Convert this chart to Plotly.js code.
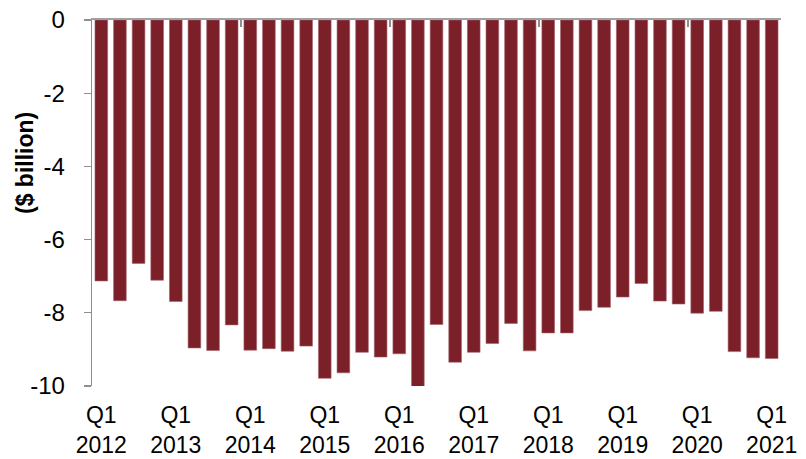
<!DOCTYPE html>
<html>
<head>
<meta charset="utf-8">
<script src="https://cdn.plot.ly/plotly-3.0.1.min.js"></script>
<style>html,body{margin:0;padding:0;background:#fff;}#chart{width:806px;height:459px;}</style>
</head>
<body>
<div id="chart"></div>
<script>
// Quarters Q1 2012 .. Q1 2021
const quarters = [
  "2012Q1","2012Q2","2012Q3","2012Q4",
  "2013Q1","2013Q2","2013Q3","2013Q4",
  "2014Q1","2014Q2","2014Q3","2014Q4",
  "2015Q1","2015Q2","2015Q3","2015Q4",
  "2016Q1","2016Q2","2016Q3","2016Q4",
  "2017Q1","2017Q2","2017Q3","2017Q4",
  "2018Q1","2018Q2","2018Q3","2018Q4",
  "2019Q1","2019Q2","2019Q3","2019Q4",
  "2020Q1","2020Q2","2020Q3","2020Q4",
  "2021Q1"
];
const values = [
  -7.13, -7.67, -6.65, -7.11,
  -7.69, -8.96, -9.03, -8.33,
  -9.02, -8.98, -9.05, -8.91,
  -9.79, -9.64, -9.08, -9.21,
  -9.12, -10.03, -8.32, -9.35,
  -9.08, -8.84, -8.29, -9.04,
  -8.55, -8.55, -7.94, -7.85,
  -7.57, -7.20, -7.68, -7.76,
  -8.01, -7.96, -9.06, -9.23,
  -9.25
];
const tickLabels = ["Q1<br>2012","Q1<br>2013","Q1<br>2014","Q1<br>2015","Q1<br>2016","Q1<br>2017","Q1<br>2018","Q1<br>2019","Q1<br>2020","Q1<br>2021"];
const tickQuarters = ["2012Q1","2013Q1","2014Q1","2015Q1","2016Q1","2017Q1","2018Q1","2019Q1","2020Q1","2021Q1"];
const yTicks = [0, -2, -4, -6, -8, -10];

const xIdx = quarters.map((q, i) => i);
const tickPos = tickQuarters.map(q => quarters.indexOf(q));
// separator ticks every 8 quarters (between categories)
const sepTicks = [8, 16, 24, 32].map(k => k - 0.5);

const FONT = '"Liberation Sans", Arial, sans-serif';
const AXIS_GRAY = '#8e8e8e';

const traces = [
  {
    type: 'bar',
    x: xIdx,
    y: values,
    marker: {color: '#7b2029', line: {color: '#a4626a', width: 0.6}},
    hoverinfo: 'skip'
  },
  {
    type: 'scatter',
    x: [xIdx[0]],
    y: [0],
    xaxis: 'x2',
    mode: 'none',
    hoverinfo: 'skip',
    showlegend: false
  }
];

const xr = [-0.5, quarters.length - 0.5];

const layout = {
  width: 806,
  height: 459,
  margin: {l: 92, r: 25, t: 20, b: 73},
  paper_bgcolor: '#ffffff',
  plot_bgcolor: '#ffffff',
  showlegend: false,
  bargap: 0.32,
  font: {family: FONT, color: '#000000'},
  xaxis: {
    range: xr,
    tickvals: tickPos,
    ticktext: tickLabels,
    ticks: '',
    showline: false,
    showgrid: false,
    zeroline: false,
    tickfont: {size: 23, family: FONT, color: '#000'},
    ticklabelstandoff: 13,
    fixedrange: true
  },
  xaxis2: {
    overlaying: 'x',
    side: 'top',
    range: xr,
    tickvals: sepTicks,
    ticks: 'inside',
    ticklen: 7,
    tickwidth: 2,
    tickcolor: AXIS_GRAY,
    showticklabels: false,
    showline: true,
    linecolor: '#a0a0a0',
    linewidth: 2,
    showgrid: false,
    zeroline: false
  },
  yaxis: {
    range: [-10, 0],
    tickvals: yTicks,
    ticktext: yTicks.map(v => String(v)),
    ticks: 'outside',
    ticklen: 7,
    tickwidth: 1.3,
    tickcolor: AXIS_GRAY,
    showline: true,
    linecolor: AXIS_GRAY,
    linewidth: 1.3,
    showgrid: false,
    zeroline: false,
    tickfont: {size: 24, family: FONT, color: '#000'},
    ticklabelstandoff: 14,
    fixedrange: true
  },
  annotations: [
    {
      text: '<b>($ billion)</b>',
      textangle: -90,
      xref: 'paper', yref: 'paper',
      x: (25 - 92) / 689, y: (386 - 163) / 366,
      xanchor: 'center', yanchor: 'middle',
      showarrow: false,
      font: {size: 23, family: FONT, color: '#000'}
    }
  ]
};

Plotly.newPlot('chart', traces, layout, {displayModeBar: false, staticPlot: true});
</script>
</body>
</html>
